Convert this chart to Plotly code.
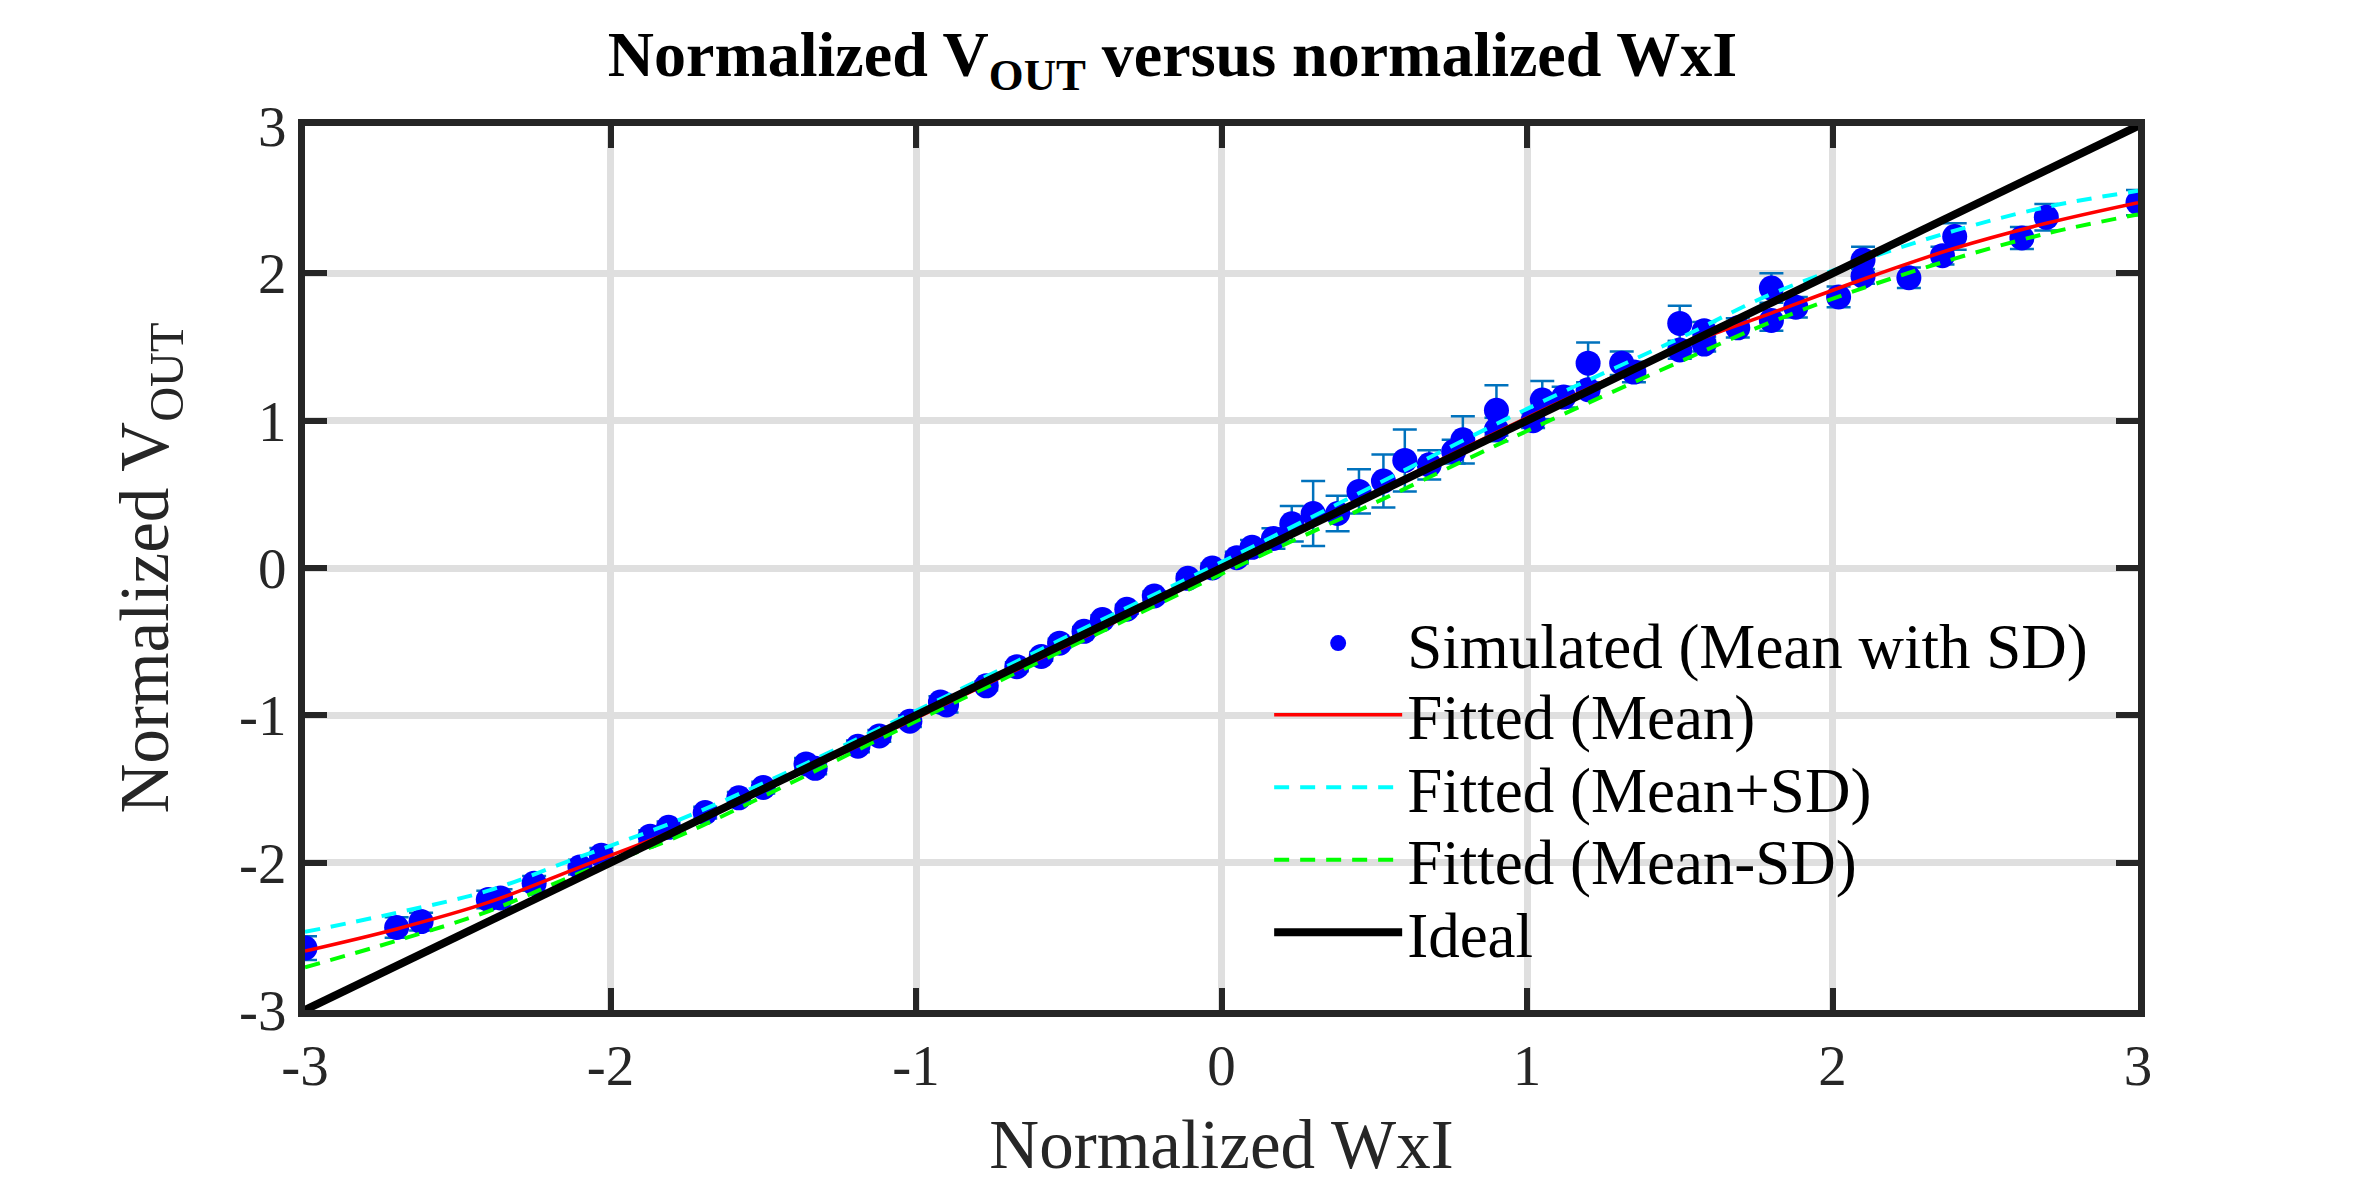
import plotly.graph_objects as go

# Simulated points (mean with SD)
sim_x = [-3.00, -2.70, -2.62, -2.40, -2.36, -2.25, -2.10, -2.03, -1.87, -1.81,
         -1.69, -1.58, -1.50, -1.36, -1.33, -1.19, -1.12, -1.02, -0.92, -0.90,
         -0.77, -0.67, -0.59, -0.53, -0.45, -0.39, -0.31, -0.22, -0.11, -0.03,
         0.05, 0.10, 0.17, 0.23, 0.30, 0.38, 0.45, 0.53, 0.60, 0.68,
         0.76, 0.79, 0.90, 0.90, 1.02, 1.05, 1.12, 1.20, 1.20, 1.31,
         1.35, 1.50, 1.50, 1.58, 1.58, 1.69, 1.80, 1.80, 1.88, 2.02,
         2.10, 2.10, 2.25, 2.36, 2.40, 2.62, 2.70, 3.00]
sim_y = [-2.58, -2.44, -2.40, -2.25, -2.24, -2.14, -2.03, -1.95, -1.82, -1.76,
         -1.66, -1.56, -1.49, -1.33, -1.36, -1.21, -1.14, -1.04, -0.91, -0.93,
         -0.80, -0.67, -0.60, -0.51, -0.43, -0.35, -0.28, -0.19, -0.07, 0.00,
         0.07, 0.14, 0.20, 0.30, 0.37, 0.37, 0.52, 0.59, 0.73, 0.70,
         0.79, 0.87, 1.07, 0.94, 1.00, 1.14, 1.16, 1.39, 1.21, 1.39,
         1.33, 1.66, 1.48, 1.61, 1.52, 1.63, 1.90, 1.68, 1.77, 1.84,
         2.09, 1.98, 1.97, 2.12, 2.25, 2.24, 2.38, 2.48]
sim_sd = [0.08, 0.07, 0.06, 0.06, 0.06, 0.05, 0.05, 0.05, 0.04, 0.04,
          0.04, 0.04, 0.04, 0.04, 0.04, 0.04, 0.04, 0.04, 0.04, 0.05,
          0.03, 0.03, 0.03, 0.03, 0.03, 0.03, 0.03, 0.03, 0.03, 0.03,
          0.04, 0.05, 0.07, 0.12, 0.22, 0.12, 0.15, 0.18, 0.21, 0.10,
          0.08, 0.16, 0.17, 0.08, 0.05, 0.13, 0.07, 0.14, 0.05, 0.08,
          0.07, 0.12, 0.06, 0.06, 0.05, 0.065, 0.10, 0.07, 0.07, 0.07,
          0.09, 0.05, 0.07, 0.06, 0.09, 0.075, 0.09, 0.085]

# Fitted curves
fit_x = [-3.0, -2.7, -2.4, -2.1, -1.8, -1.5, -1.0, -0.5, 0.0, 0.5, 1.0, 1.5, 1.8, 2.1, 2.4, 2.7, 3.0]
fit_mean = [-2.60, -2.45, -2.27, -2.03, -1.79, -1.51, -1.02, -0.52, -0.01, 0.51, 1.02, 1.50, 1.73, 1.96, 2.17, 2.34, 2.48]
fit_plus = [-2.47, -2.34, -2.19, -1.96, -1.73, -1.46, -0.97, -0.46, 0.04, 0.56, 1.08, 1.56, 1.86, 2.09, 2.29, 2.45, 2.56]
fit_minus = [-2.71, -2.53, -2.33, -2.07, -1.84, -1.55, -1.04, -0.54, -0.04, 0.44, 0.93, 1.40, 1.67, 1.90, 2.10, 2.27, 2.40]

# Ideal line
ideal_x = [-3, 3]
ideal_y = [-3, 3]

tick_vals = [-3, -2, -1, 0, 1, 2, 3]
tick_text = ['-3', '-2', '-1', '0', '1', '2', '3']

series_names = ['Simulated (Mean with SD)', 'Fitted (Mean)', 'Fitted (Mean+SD)',
                'Fitted (Mean-SD)', 'Ideal']

FONT = 'Liberation Serif'
AX = '#262626'

fig = go.Figure()
fig.add_trace(go.Scatter(
    x=sim_x, y=sim_y, mode='markers', name=series_names[0], legend='legend',
    marker=dict(color='#0000ff', size=25, line=dict(width=0)),
    error_y=dict(type='data', array=sim_sd, visible=True, color='#0072BD',
                 thickness=2.5, width=12)))
fig.add_trace(go.Scatter(
    x=fit_x, y=fit_mean, mode='lines', name=series_names[1], legend='legend2',
    line_shape='spline', line=dict(color='#ff0000', width=3.5)))
fig.add_trace(go.Scatter(
    x=fit_x, y=fit_plus, mode='lines', name=series_names[2], legend='legend3',
    line_shape='spline', line=dict(color='#00ffff', width=4, dash='15px,11px')))
fig.add_trace(go.Scatter(
    x=fit_x, y=fit_minus, mode='lines', name=series_names[3], legend='legend4',
    line_shape='spline', line=dict(color='#00ff00', width=4, dash='15px,11px')))
fig.add_trace(go.Scatter(
    x=ideal_x, y=ideal_y, mode='lines', name=series_names[4], legend='legend5',
    line=dict(color='#000000', width=8)))

axis_common = dict(
    range=[-3, 3], tickmode='array', tickvals=tick_vals, ticktext=tick_text,
    ticks='inside', ticklen=22, tickwidth=6, tickcolor=AX,
    showline=True, linewidth=7, linecolor=AX, mirror='ticks',
    showgrid=True, gridcolor='#dfdfdf', gridwidth=7, zeroline=False,
    tickfont=dict(family=FONT, size=57, color=AX), automargin=False,
)

legend_rows = [0.415, 0.334, 0.252, 0.170, 0.088]


def legend_box(yv):
    return dict(x=0.526, y=yv, xanchor='left', yanchor='middle',
                bgcolor='rgba(0,0,0,0)', borderwidth=0, itemwidth=128,
                font=dict(family=FONT, size=63, color='#000000'))


fig.update_layout(
    width=2362, height=1181,
    margin=dict(l=297, r=232, t=118, b=179, pad=0),
    paper_bgcolor='white', plot_bgcolor='white',
    title=dict(text='<b>Normalized V<sub>OUT</sub> versus normalized WxI</b>',
               x=0.493, xanchor='center', y=0.961, yanchor='middle',
               font=dict(family=FONT, size=64, color='#000000')),
    xaxis=dict(**axis_common,
               title=dict(text='Normalized WxI', standoff=26,
                          font=dict(family=FONT, size=69, color=AX))),
    yaxis=dict(**axis_common,
               title=dict(text='Normalized V<sub>OUT</sub>', standoff=50,
                          font=dict(family=FONT, size=69, color=AX))),
    legend=legend_box(legend_rows[0]),
    legend2=legend_box(legend_rows[1]),
    legend3=legend_box(legend_rows[2]),
    legend4=legend_box(legend_rows[3]),
    legend5=legend_box(legend_rows[4]),
    showlegend=True,
)

fig.write_html('out.html')
